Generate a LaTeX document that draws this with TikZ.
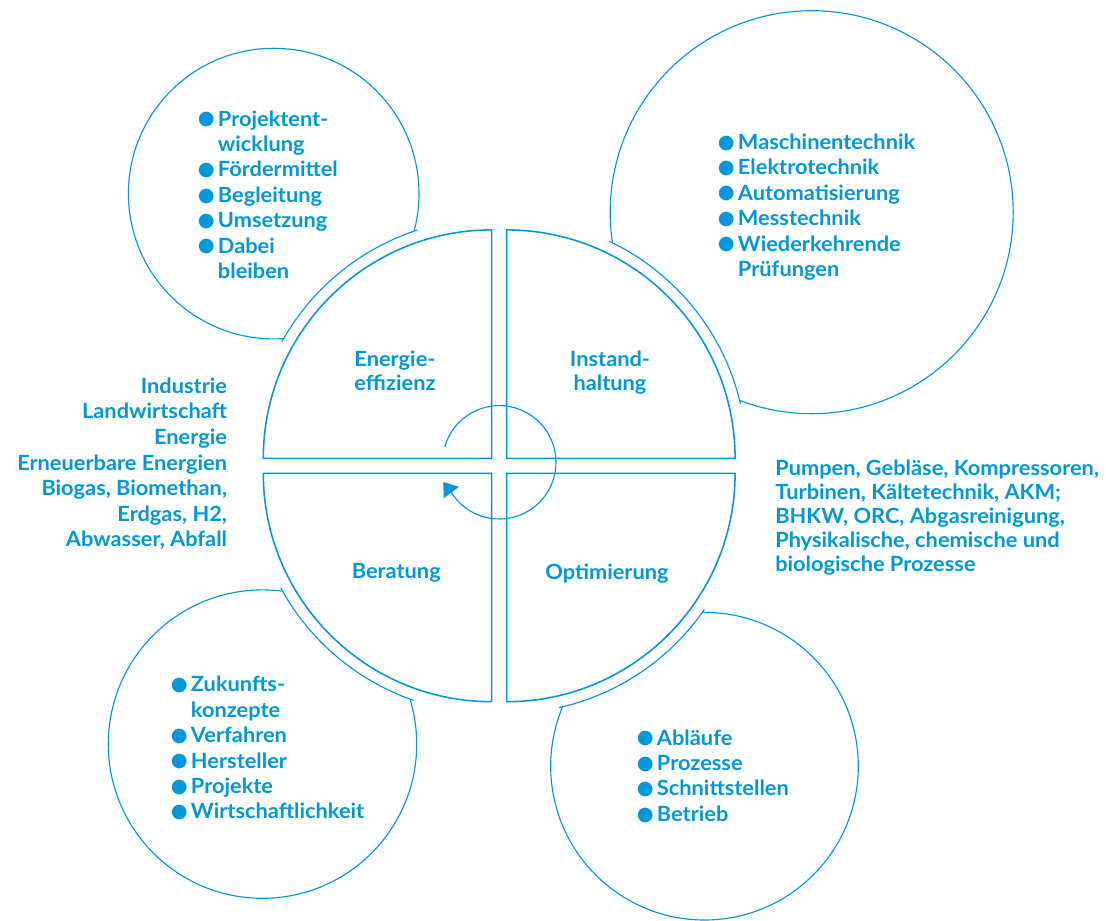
\documentclass[tikz,border=0pt]{standalone}
\usepackage{fontspec}
\setmainfont{Lato}[FakeStretch=1.04]
\newfontfamily\symfont{DejaVu Sans}
\usetikzlibrary{arrows.meta}
\definecolor{kblau}{RGB}{0,152,218}
\newcommand\bul{\makebox[14.2pt][l]{\raisebox{0.9pt}{\scalebox{0.92}{\symfont ●}}}}
\newcommand\ein{\hspace*{14.2pt}}
\newcommand\zeilen[1]{\fontsize{14.9}{#1}\selectfont}

\begin{document}
\begin{tikzpicture}[x=0.025cm,y=-0.025cm,line join=round,line cap=round,
    >={Triangle[length=0.33cm,width=0.47cm]}]
  \tikzset{every node/.style={inner sep=0pt,text=kblau,font=\zeilen{18.1pt}\bfseries},
    bub/.style={draw=kblau,line width=0.8pt},
    quad/.style={draw=kblau,line width=1.1pt}}
  \useasboundingbox (0,0) rectangle (1106,921);
  % Blasen, jeweils vom Kreis in der Mitte ausgeschnitten
  \foreach \bx/\by/\br/\qx/\qy in {273.7/193.6/145.3/491.7/458.3,811.7/212.2/201.5/506.7/458.3,
      262.5/744.1/154.2/491.7/473.3,704.5/766.2/153.8/506.7/473.3}{
    \draw[bub] (\bx,\by) circle (\br);
    \begin{scope}
      \clip (\bx,\by) circle (\br+3);
      \fill[white] (\qx,\qy) circle (240);
      \draw[bub] (\qx,\qy) circle (240);
    \end{scope}
  }
  % Viertel
  \foreach \cx/\cy/\a in {491.7/458.3/180,506.7/458.3/270,506.7/473.3/0,491.7/473.3/90}
    \draw[quad] (\cx,\cy) -- ++(\a:228.4) arc[start angle=\a,delta angle=90,radius=228.4] -- cycle;
  \draw[kblau,line width=0.8pt,->] (499.3,462.3) ++(196:56.7) arc[start angle=196,end angle=507,radius=56.7]
    -- ++(-8.4,-11.2);
  % Texte
  \node[anchor=base] (effizienz) at (395,366) {\zeilen{17.1pt}\begin{tabular}[t]{@{}c@{}}Energie-\\effizienz\end{tabular}};
  \node[anchor=base] (instand) at (610,366) {\zeilen{17.1pt}\begin{tabular}[t]{@{}c@{}}Instand-\\haltung\end{tabular}};
  \node[anchor=base] (beratung) at (396.3,578.3) {Beratung};
  \node[anchor=base] (optimierung) at (607,579) {Optimierung};
  \node[anchor=base west] (foerder) at (197.7,126) {\begin{tabular}[t]{@{}l@{}}
    \bul Projektent-\\ \ein wicklung\\ \bul Fördermittel\\ \bul Begleitung\\
    \bul Umsetzung\\ \bul Dabei\\ \ein bleiben\end{tabular}};
  \node[anchor=base west] (technik) at (717.7,149.3) {\begin{tabular}[t]{@{}l@{}}
    \bul Maschinentechnik\\ \bul Elektrotechnik\\ \bul Automatisierung\\ \bul Messtechnik\\
    \bul Wiederkehrende\\ \ein Prüfungen\end{tabular}};
  \node[anchor=base west] (konzepte) at (170.7,691.7) {\begin{tabular}[t]{@{}l@{}}
    \bul Zukunfts-\\ \ein konzepte\\ \bul Verfahren\\ \bul Hersteller\\ \bul Projekte\\
    \bul Wirtschaftlichkeit\end{tabular}};
  \node[anchor=base west] (ablauf) at (636.7,745) {\begin{tabular}[t]{@{}l@{}}
    \bul Abläufe\\ \bul Prozesse\\ \bul Schnittstellen\\ \bul Betrieb\end{tabular}};
  \node[anchor=base east] (branchen) at (227.3,393.3) {\zeilen{18.2pt}\begin{tabular}[t]{@{}r@{}}
    Industrie\\ Landwirtschaft\\ Energie\\ Erneuerbare Energien\\ Biogas, Biomethan,\\
    Erdgas, H2,\\ Abwasser, Abfall\end{tabular}};
  \node[anchor=base west] (anlagen) at (775,475) {\zeilen{17.2pt}\begin{tabular}[t]{@{}l@{}}
    Pumpen, Gebläse, Kompressoren,\\ Turbinen, Kältetechnik, AKM;\\ BHKW, ORC, Abgasreinigung,\\
    Physikalische, chemische und\\ biologische Prozesse\end{tabular}};
\end{tikzpicture}
\end{document}
